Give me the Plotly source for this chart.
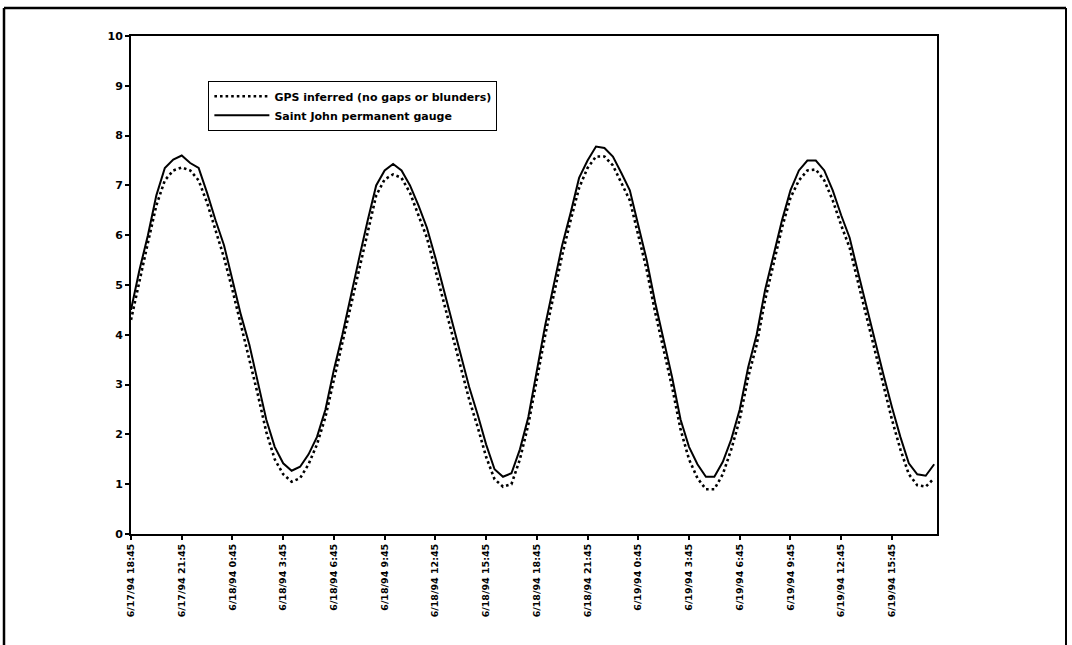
import pandas as pd
import plotly.graph_objects as go

# Water level (m), 30-minute samples starting 6/17/94 18:45
start_time = "1994-06-17 18:45"
sample_step = "30min"

gauge_level = [
    4.50, 5.30, 6.00, 6.80, 7.35, 7.52, 7.60, 7.45, 7.35, 6.85,
    6.30, 5.80, 5.10, 4.40, 3.80, 3.05, 2.30, 1.75, 1.42, 1.27,
    1.35, 1.60, 1.95, 2.50, 3.30, 4.00, 4.80, 5.55, 6.30, 7.00,
    7.30, 7.43, 7.30, 7.00, 6.60, 6.15, 5.55, 4.90, 4.20, 3.55,
    2.95, 2.40, 1.80, 1.30, 1.15, 1.22, 1.70, 2.35, 3.30, 4.20,
    5.00, 5.80, 6.45, 7.15, 7.50, 7.78, 7.75, 7.58, 7.25, 6.90,
    6.20, 5.50, 4.65, 3.90, 3.15, 2.30, 1.75, 1.40, 1.15, 1.15,
    1.45, 1.90, 2.50, 3.35, 4.00, 4.90, 5.60, 6.30, 6.90, 7.30,
    7.50, 7.50, 7.30, 6.90, 6.40, 5.95, 5.25, 4.55, 3.85, 3.20,
    2.55, 1.95, 1.42, 1.20, 1.17, 1.40,
]

gps_level = [
    4.30, 5.10, 5.85, 6.60, 7.10, 7.30, 7.36, 7.30, 7.10, 6.65,
    6.10, 5.55, 4.90, 4.20, 3.55, 2.80, 2.05, 1.50, 1.20, 1.05,
    1.12, 1.40, 1.80, 2.35, 3.10, 3.85, 4.60, 5.35, 6.10, 6.80,
    7.12, 7.22, 7.15, 6.85, 6.40, 5.95, 5.30, 4.65, 3.95, 3.30,
    2.70, 2.15, 1.55, 1.10, 0.95, 1.00, 1.50, 2.20, 3.10, 4.00,
    4.80, 5.60, 6.30, 6.95, 7.35, 7.58, 7.58, 7.40, 7.05, 6.70,
    6.00, 5.30, 4.45, 3.70, 2.95, 2.10, 1.50, 1.12, 0.90, 0.90,
    1.20, 1.70, 2.30, 3.15, 3.80, 4.70, 5.45, 6.15, 6.75, 7.10,
    7.30, 7.32, 7.10, 6.70, 6.20, 5.75, 5.05, 4.35, 3.65, 3.00,
    2.30, 1.70, 1.20, 0.98, 0.95, 1.12,
]

tick_times = [
    "1994-06-17 18:45", "1994-06-17 21:45", "1994-06-18 00:45", "1994-06-18 03:45",
    "1994-06-18 06:45", "1994-06-18 09:45", "1994-06-18 12:45", "1994-06-18 15:45",
    "1994-06-18 18:45", "1994-06-18 21:45", "1994-06-19 00:45", "1994-06-19 03:45",
    "1994-06-19 06:45", "1994-06-19 09:45", "1994-06-19 12:45", "1994-06-19 15:45",
]
tick_labels = [
    "6/17/94 18:45", "6/17/94 21:45", "6/18/94 0:45", "6/18/94 3:45",
    "6/18/94 6:45", "6/18/94 9:45", "6/18/94 12:45", "6/18/94 15:45",
    "6/18/94 18:45", "6/18/94 21:45", "6/19/94 0:45", "6/19/94 3:45",
    "6/19/94 6:45", "6/19/94 9:45", "6/19/94 12:45", "6/19/94 15:45",
]
x_end = "1994-06-19 18:25"

times = pd.date_range(start_time, periods=len(gauge_level), freq=sample_step)

FONT = "DejaVu Sans"

fig = go.Figure()
fig.add_trace(go.Scatter(
    x=times, y=gps_level, mode="lines",
    name="GPS inferred (no gaps or blunders)",
    line=dict(color="black", width=2.6, dash="2.6px,3px"),
))
fig.add_trace(go.Scatter(
    x=times, y=gauge_level, mode="lines",
    name="Saint John permanent gauge",
    line=dict(color="black", width=2),
))

fig.update_layout(
    width=1072, height=645,
    margin=dict(l=131, r=135, t=36, b=111),
    paper_bgcolor="white", plot_bgcolor="white",
    showlegend=True,
    legend=dict(
        x=0.096, y=0.91, xanchor="left", yanchor="top",
        bgcolor="white", bordercolor="black", borderwidth=1,
        font=dict(family=FONT, size=11, color="black", weight="bold"),
        tracegroupgap=0, itemwidth=55,
    ),
    font=dict(family=FONT, color="black"),
)

fig.update_xaxes(
    range=[start_time, x_end],
    tickmode="array", tickvals=tick_times, ticktext=tick_labels,
    tickangle=-90,
    tickfont=dict(family=FONT, size=9.5, color="black", weight="bold"),
    showgrid=False, zeroline=False,
    showline=True, linecolor="black", linewidth=2, mirror=True,
    ticks="outside", ticklen=4, tickwidth=1.5, tickcolor="black",
)
fig.update_yaxes(
    range=[0, 10], tickmode="linear", tick0=0, dtick=1,
    tickfont=dict(family=FONT, size=11, color="black", weight="bold"),
    showgrid=False, zeroline=False,
    showline=True, linecolor="black", linewidth=2, mirror=True,
    ticks="outside", ticklen=4, tickwidth=1.5, tickcolor="black",
)

# Outer frame around the whole chart (paper units relative to the plot area)
PW, PH = 1072 - 131 - 135, 498
fx0, fx1 = (4 - 131) / PW, (1066 - 131) / PW
fy0, fy1 = (534 - 8) / PH, (534 - 645) / PH
fig.add_shape(type="line", xref="paper", yref="paper",
              x0=fx0, x1=fx0, y0=fy0, y1=fy1, line=dict(color="black", width=2.5))
fig.add_shape(type="line", xref="paper", yref="paper",
              x0=fx0, x1=fx1, y0=fy0, y1=fy0, line=dict(color="black", width=2.5))
fig.add_shape(type="line", xref="paper", yref="paper",
              x0=fx1, x1=fx1, y0=fy0, y1=fy1, line=dict(color="black", width=2))

fig.write_html("out.html")
